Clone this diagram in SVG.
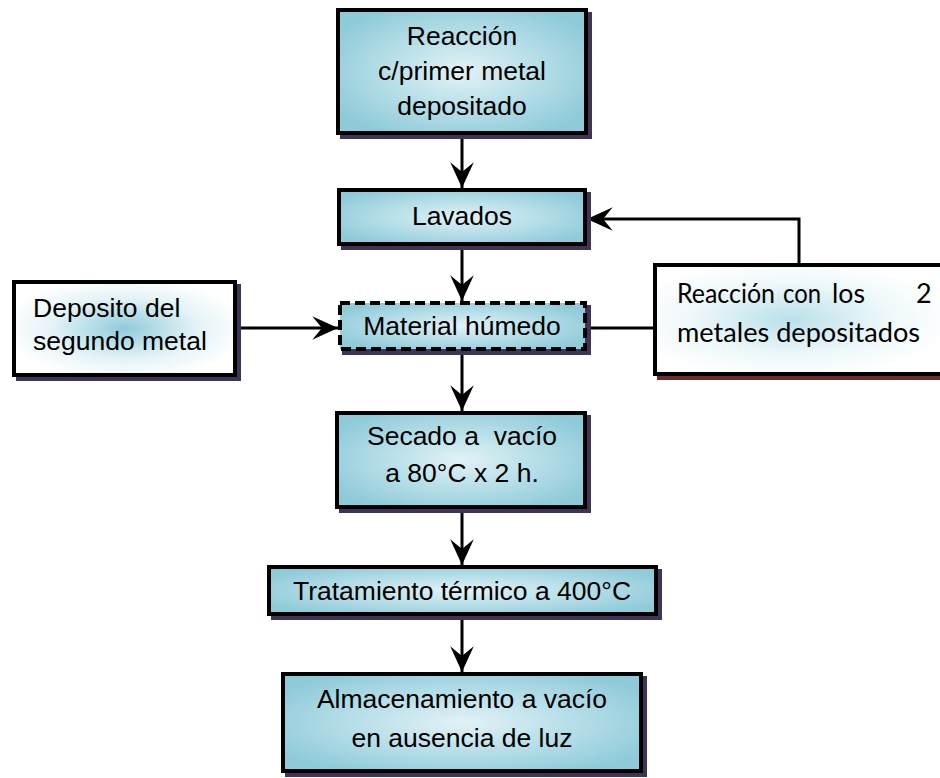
<svg xmlns="http://www.w3.org/2000/svg" width="940" height="778" viewBox="0 0 940 778">
<defs>
<radialGradient id="gBlue" cx="50%" cy="50%" r="60%">
<stop offset="0" stop-color="#e2f2f6"/>
<stop offset="0.55" stop-color="#b3dde7"/>
<stop offset="1" stop-color="#8ecad8"/>
</radialGradient>
<radialGradient id="gWhite" cx="50%" cy="50%" r="55%">
<stop offset="0" stop-color="#8fcbd9"/>
<stop offset="0.6" stop-color="#e4f3f7"/>
<stop offset="1" stop-color="#ffffff"/>
</radialGradient>
<radialGradient id="gWhite2" cx="45%" cy="50%" r="55%">
<stop offset="0" stop-color="#b9e0ea"/>
<stop offset="0.6" stop-color="#eef8fa"/>
<stop offset="1" stop-color="#ffffff"/>
</radialGradient>
<marker id="arr" markerUnits="userSpaceOnUse" markerWidth="30" markerHeight="30" viewBox="-26 -13 28 26" refX="0" refY="0" orient="auto">
<path d="M0,0 L-24,-11 L-15,0 L-24,11 Z" fill="#000"/>
</marker>
</defs>
<style>
.box{stroke:#000;stroke-width:4;fill:url(#gBlue)}
.shadow{fill:#3f3356}
.c{stroke:#000;stroke-width:3;fill:none}
</style>

<g id="connectors">
<line class="c" x1="462" y1="135" x2="462" y2="188" marker-end="url(#arr)"/>
<line class="c" x1="462" y1="246" x2="462" y2="301" marker-end="url(#arr)"/>
<line class="c" x1="462" y1="351" x2="462" y2="411" marker-end="url(#arr)"/>
<line class="c" x1="462" y1="509" x2="462" y2="565" marker-end="url(#arr)"/>
<line class="c" x1="462" y1="616" x2="462" y2="672" marker-end="url(#arr)"/>
<line class="c" x1="237" y1="328" x2="338" y2="328" marker-end="url(#arr)"/>
<line class="c" x1="587" y1="328" x2="653" y2="328"/>
<polyline class="c" points="799,263 799,219 587,219" marker-end="url(#arr)"/>
</g>

<g font-family="'Liberation Sans', Arial, Helvetica, sans-serif" font-size="26.5" fill="#000" text-anchor="middle">
<g id="n1">
<rect class="shadow" x="340" y="12" width="252" height="127"/>
<rect class="box" x="338" y="10" width="248" height="123"/>
<text x="462" y="45">Reacción</text>
<text x="462" y="80">c/primer metal</text>
<text x="462" y="115">depositado</text>
</g>

<g id="n2">
<rect class="shadow" x="341" y="192" width="250" height="58"/>
<rect class="box" x="339" y="190" width="246" height="54"/>
<text x="462" y="225">Lavados</text>
</g>

<g id="n3">
<rect class="shadow" x="342" y="305" width="249" height="50"/>
<rect class="box" x="340" y="303" width="245" height="46" stroke-dasharray="10 5"/>
<text x="462" y="335">Material húmedo</text>
</g>

<g id="n_left">
<rect class="shadow" x="16" y="284" width="225" height="97"/>
<rect x="14" y="282" width="221" height="93" fill="url(#gWhite)" stroke="#000" stroke-width="4"/>
<text x="33" y="317" text-anchor="start">Deposito del</text>
<text x="33" y="350" text-anchor="start">segundo metal</text>
</g>

<g id="n4">
<rect class="shadow" x="339" y="415" width="252" height="98"/>
<rect class="box" x="337" y="413" width="248" height="94"/>
<text x="462" y="445" xml:space="preserve">Secado a  vacío</text>
<text x="462" y="482">a 80°C x 2 h.</text>
</g>

<g id="n5">
<rect class="shadow" x="271" y="569" width="391" height="51"/>
<rect class="box" x="269" y="567" width="387" height="47"/>
<text x="462" y="600">Tratamiento térmico a 400°C</text>
</g>

<g id="n6">
<rect class="shadow" x="285" y="676" width="362" height="101"/>
<rect class="box" x="283" y="674" width="358" height="97"/>
<text x="462" y="708">Almacenamiento a vacío</text>
<text x="462" y="747">en ausencia de luz</text>
</g>
</g>

<g id="n_right" font-family="Lato, 'Open Sans', sans-serif" font-size="27" fill="#000">
<rect x="657" y="269" width="300" height="111" fill="#6e2b2b"/>
<rect x="655" y="265" width="300" height="109" fill="url(#gWhite2)" stroke="#000" stroke-width="4"/>
<text x="677" y="303" textLength="98" lengthAdjust="spacingAndGlyphs">Reacción</text>
<text x="783" y="303" textLength="38" lengthAdjust="spacingAndGlyphs">con</text>
<text x="832" y="303" textLength="33" lengthAdjust="spacingAndGlyphs">los</text>
<text x="916" y="303">2</text>
<text x="677" y="342" textLength="243" lengthAdjust="spacingAndGlyphs">metales depositados</text>
</g>
</svg>
